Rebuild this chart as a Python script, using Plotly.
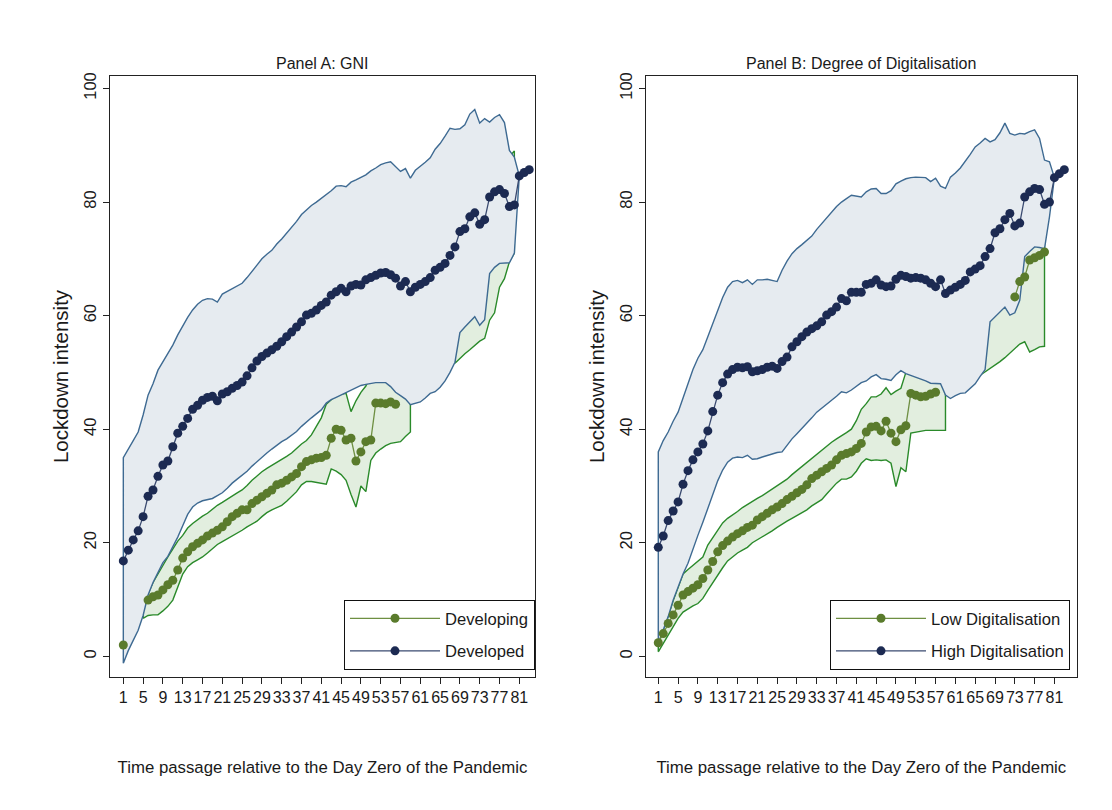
import plotly.graph_objects as go

N = None
days = list(range(1, 84))
xtick_vals = list(range(1, 82, 4))
xtick_text = [str(v) for v in xtick_vals]
ytick_vals = [0, 20, 40, 60, 80, 100]

# ---------------- Panel A: GNI ----------------
developed_mean = [16.8, 18.7, 20.5, 22.1, 24.6, 28.2, 29.3, 31.7, 33.7, 34.4,
                  36.9, 39.3, 40.5, 41.9, 43.5, 44.2, 45.1, 45.6, 45.8, 45.0,
                  46.2, 46.6, 47.2, 47.7, 48.3, 49.4, 50.8, 52.0, 52.8, 53.4,
                  54.0, 54.6, 55.4, 56.3, 57.1, 58.0, 58.9, 60.1, 60.4, 61.0,
                  61.8, 62.4, 63.6, 64.2, 64.8, 64.2, 65.2, 65.5, 65.4, 66.3,
                  66.7, 67.1, 67.5, 67.6, 67.2, 66.6, 65.2, 66.0, 64.2, 65.0,
                  65.5, 66.0, 66.7, 68.0, 68.5, 69.2, 70.6, 72.1, 74.8, 75.3,
                  77.4, 78.1, 76.1, 76.9, 80.9, 81.8, 82.2, 81.5, 79.2, 79.5,
                  84.6, 85.2, 85.7]
developed_lo = [-1.2, 1.0, 2.8, 4.6, 7.2, 10.8, 13.0, 14.9, 16.5, 17.6,
                19.2, 21.0, 23.0, 25.0, 26.3, 27.0, 27.4, 27.6, 27.8, 28.3,
                28.8, 29.6, 30.5, 31.2, 31.9, 32.6, 33.5, 34.3, 35.0, 35.8,
                36.5, 37.2, 37.8, 38.3, 38.9, 39.6, 40.5, 41.3, 42.0, 42.7,
                43.4, 44.6, 45.2, 45.6, 46.0, 46.5, 46.9, 47.3, 47.7, 47.9,
                48.1, 48.2, 48.2, 48.2, 47.5, 46.5, 45.9, 45.3, 44.3, 44.5,
                44.8, 45.5, 46.3, 46.6, 47.4, 48.5, 50.0, 51.8, 57.0, 58.0,
                59.0, 59.8, 58.3, 59.3, 67.4, 68.5, 69.2, 69.2, 69.3, 71.0,
                84.6, 85.2, 85.7]
developed_hi = [35.0, 36.5, 38.0, 39.5, 42.5, 46.0, 48.0, 50.4, 51.9, 53.3,
                54.8, 56.6, 58.2, 59.7, 61.0, 62.0, 62.7, 63.0, 62.9, 62.4,
                63.8, 64.2, 64.8, 65.2, 65.7, 66.7, 67.7, 68.9, 70.0, 70.8,
                71.5, 72.6, 73.5, 74.6, 75.5, 76.6, 77.8, 78.6, 79.4, 80.0,
                80.6, 81.3, 82.0, 82.8, 82.9, 82.7, 83.5, 83.9, 84.3, 84.8,
                85.5, 86.0, 86.6, 86.9, 87.1, 86.3, 85.4, 85.9, 84.2, 85.6,
                86.3, 87.0, 87.8, 89.3, 90.3, 91.6, 93.0, 92.8, 92.9, 93.6,
                95.5, 96.3, 93.9, 94.7, 94.1, 94.9, 95.4, 94.0, 89.1, 87.9,
                84.6, 85.2, 85.7]

developing_mean = ([2.0, N, N, N, N,
                    9.9, 10.5, 10.8, 11.7, 12.6, 13.4, 15.2, 17.3, 18.4, 19.3,
                    19.9, 20.5, 21.2, 21.7, 22.2, 22.8, 23.7, 24.6, 25.2, 25.8,
                    25.8, 26.9, 27.5, 28.1, 28.7, 29.3, 30.2, 30.5, 31.0, 31.6,
                    32.2, 33.4, 34.3, 34.6, 34.9, 35.0, 35.4, 38.4, 40.0, 39.8,
                    38.1, 38.4, 34.4, 36.0, 37.8, 38.1, 44.6, 44.6, 44.5, 44.8, 44.4]
                   + [N] * 27)
developing_lo = ([N, N, N, N,
                  6.7, 7.2, 7.3, 7.3, 8.0, 8.8, 9.9, 12.3, 14.5, 15.8,
                  16.5, 17.0, 17.5, 18.2, 18.9, 19.7, 20.2, 20.7, 21.1, 21.6,
                  22.2, 22.8, 23.3, 23.8, 24.6, 25.3, 25.8, 26.2, 26.6, 27.3,
                  28.1, 29.0, 30.2, 30.8, 30.8, 30.6, 30.4, 30.3, 33.0, 32.6,
                  32.0, 31.0, 28.5, 26.3, 30.0, 29.0, 34.5, 35.8, 36.5, 37.1,
                  37.5, 37.7, 37.8, 38.7, 39.5]
                 + [N] * 8
                 + [51.6, 52.5, 53.3, 54.0, 54.8, 55.5, 56.0, 59.2, 60.5, 65.0,
                    66.5, 69.5, 71.0]
                 + [N] * 3)
developing_hi = ([N, N, N, N,
                  9.5, 11.0, 13.0, 14.6, 16.0, 17.5, 19.0, 20.3, 21.3, 22.6,
                  23.4, 24.1, 24.7, 25.2, 25.9, 26.6, 27.1, 27.6, 28.2, 28.8,
                  29.3, 30.1, 31.0, 31.8, 32.5, 33.1, 33.6, 34.2, 34.7, 35.2,
                  35.8, 36.6, 37.4, 38.0, 39.0, 40.4, 42.0, 44.4, 45.2, 46.0,
                  46.2, 46.3, 43.1, 45.0, 46.5, 47.6, 49.5, 50.5, 51.0, 51.0,
                  50.5, 50.5, 50.0, 49.0, 48.0]
                 + [N] * 8
                 + [58.0, 60.0, 62.0, 63.0, 64.0, 65.0, 70.0, 72.0, 75.0, 78.0,
                    82.0, 88.0, 89.0]
                 + [N] * 3)

# ---------------- Panel B: Degree of Digitalisation ----------------
high_mean = [19.2, 21.2, 23.9, 25.6, 27.2, 30.3, 32.7, 34.6, 36.0, 37.4,
             39.7, 43.1, 46.0, 48.2, 49.7, 50.5, 50.9, 50.8, 51.0, 50.1,
             50.3, 50.5, 50.9, 51.1, 50.7, 51.9, 52.7, 54.5, 55.4, 56.3,
             57.1, 57.7, 58.2, 58.9, 60.1, 60.7, 61.5, 63.0, 62.6, 64.1,
             64.1, 64.1, 65.5, 65.7, 66.3, 65.4, 65.1, 65.2, 66.4, 67.1,
             66.9, 66.6, 66.7, 66.6, 66.3, 65.7, 65.1, 66.3, 63.9, 64.5,
             65.0, 65.5, 66.2, 67.7, 68.2, 68.8, 70.4, 71.8, 74.6, 75.3,
             76.9, 78.0, 75.8, 76.3, 80.9, 81.8, 82.4, 82.2, 79.6, 80.0,
             84.3, 85.0, 85.7]
high_lo = [2.3, 4.5, 7.0, 9.9, 12.3, 14.5, 16.4, 19.0, 21.3, 23.6,
           26.0, 28.6, 30.9, 32.8, 34.2, 34.9, 35.1, 35.0, 35.4, 34.7,
           34.8, 35.1, 35.4, 35.7, 35.9, 36.0, 37.2, 38.3, 39.2, 40.2,
           41.0, 42.0, 43.0, 43.7, 44.3, 45.0, 45.8, 46.6, 46.4, 46.9,
           47.5, 48.2, 48.5, 49.2, 49.6, 48.9, 48.8, 48.6, 49.6, 50.3,
           49.8, 49.5, 49.2, 48.9, 48.5, 48.1, 48.1, 48.0, 46.0, 45.4,
           45.9, 46.3, 46.4, 47.2, 48.0, 49.3, 50.5, 58.9, 59.8, 60.6,
           61.5, 60.1, 60.5, 62.7, 70.4, 71.3, 72.1, 72.0, 71.8, 77.4,
           84.3, 85.0, 85.7]
high_hi = [36.0, 38.0, 39.5, 41.4, 43.0, 45.5, 47.8, 50.5, 52.5, 54.0,
           56.3, 58.5, 61.0, 63.2, 65.0, 66.0, 66.2, 65.8, 66.3, 65.5,
           66.3, 66.3, 66.4, 66.2, 66.0, 68.0, 69.6, 70.9, 71.8, 72.5,
           73.2, 74.0, 75.2, 76.3, 77.2, 78.2, 79.2, 80.0, 80.6, 81.2,
           81.1, 80.9, 81.8, 82.3, 82.4, 81.5, 81.5, 82.0, 83.2, 83.7,
           84.1, 84.3, 84.4, 84.4, 84.3, 83.6, 84.2, 82.8, 82.4, 84.4,
           85.1, 86.0, 87.2, 88.4, 89.7, 90.4, 91.2, 90.6, 91.0, 92.2,
           93.9, 92.1, 91.8, 92.1, 92.0, 92.4, 92.7, 91.2, 87.4, 87.1,
           84.3, 85.0, 85.7]

low_mean = ([2.4, 4.0, 5.8, 7.3, 9.0, 10.8, 11.4, 12.0, 12.6, 13.7,
             15.2, 16.7, 18.4, 19.5, 20.3, 21.0, 21.6, 22.1, 22.7, 23.1,
             24.0, 24.6, 25.2, 25.8, 26.3, 26.9, 27.6, 28.2, 28.8, 29.4,
             30.2, 31.3, 31.9, 32.5, 33.1, 33.7, 34.6, 35.4, 35.7, 36.0,
             36.6, 37.5, 39.5, 40.4, 40.5, 39.7, 41.4, 39.3, 37.8, 39.9,
             40.6, 46.3, 46.0, 45.7, 45.8, 46.2, 46.5]
            + [N] * 15
            + [63.3, 66.0, 66.8, 69.8, 70.2, 70.6, 71.2]
            + [N] * 4)
low_lo = ([0.8, 2.3, 3.8, 5.3, 6.7, 7.8, 8.4, 8.9, 9.3, 10.2,
           11.6, 13.0, 14.3, 15.6, 16.8, 17.5, 18.2, 18.7, 19.2, 20.0,
           20.5, 21.0, 21.6, 22.1, 22.7, 23.3, 23.8, 24.3, 24.8, 25.3,
           25.8, 26.5, 27.0, 27.6, 28.6, 29.5, 30.5, 31.2, 31.2, 31.6,
           32.6, 34.0, 34.8, 34.5, 34.6, 34.5, 34.6, 34.0, 29.9, 33.2,
           32.5, 39.3, 39.5, 39.6, 39.8, 39.8, 39.8, 39.8, 39.8]
          + [N] * 6
          + [49.5, 50.1, 50.6, 51.2, 51.9, 52.6, 53.4, 54.3, 55.0, 55.4,
             53.6, 54.0, 54.5, 54.6]
          + [N] * 4)
low_hi = ([2.6, 4.6, 7.0, 9.8, 12.3, 14.5, 15.3, 16.0, 16.8, 17.5,
           19.6, 21.0, 22.2, 23.5, 24.3, 24.9, 25.5, 26.2, 26.8, 27.3,
           27.8, 28.3, 28.9, 29.5, 30.1, 30.6, 31.2, 32.0, 32.8, 33.5,
           34.2, 34.8, 35.6, 36.3, 37.0, 37.7, 38.3, 38.9, 39.4, 40.0,
           41.5, 43.5, 44.5, 45.7, 45.7, 46.2, 47.3, 46.1, 46.7, 47.2,
           50.0, 52.0, 52.0, 52.0, 51.0, 50.0, 50.0, 49.0, 48.0]
          + [N] * 6
          + [52.0, 56.0, 61.0, 62.0, 63.0, 64.0, 64.0, 65.0, 68.0, 72.0,
             73.0, 74.0, 74.0, 73.0]
          + [N] * 4)

# ---------------- styles ----------------
BLUE_FILL = "#e6ebf0"
BLUE_EDGE = "#3e6a92"
GREEN_FILL = "#e2eedf"
GREEN_EDGE = "#2a8a2a"
NAVY = "#1c2a52"
NAVY_LINE = "#3a4a70"
OLIVE = "#5a7b2c"
OLIVE_LINE = "#6e8f42"
FONT = "Liberation Sans, Arial, sans-serif"
TXT = "#1a1a1a"

fig = go.Figure()


def band_segments(x, lo, hi):
    segs, cur = [], []
    for d, a, b in zip(x, lo, hi):
        if a is None or b is None:
            if cur:
                segs.append(cur)
                cur = []
        else:
            cur.append((d, a, b))
    if cur:
        segs.append(cur)
    return segs


def add_band(lo, hi, fill, edge, xa, ya):
    for seg in band_segments(days, lo, hi):
        xs = [s[0] for s in seg]
        ls = [s[1] for s in seg]
        hs = [s[2] for s in seg]
        px = xs + xs[::-1] + [xs[0]]
        py = ls + hs[::-1] + [ls[0]]
        fig.add_trace(go.Scatter(x=px, y=py, mode="lines", fill="toself",
                                 fillcolor=fill, line=dict(color=edge, width=1.4),
                                 showlegend=False, hoverinfo="skip",
                                 xaxis=xa, yaxis=ya))


def add_mean(vals, name, mcol, lcol, xa, ya, legend, group):
    fig.add_trace(go.Scatter(x=days, y=vals, mode="lines+markers", name=name,
                             line=dict(color=lcol, width=1.3),
                             marker=dict(color=mcol, size=9),
                             connectgaps=False, legend=legend, legendgroup=group,
                             xaxis=xa, yaxis=ya))


# Panel A
add_band(developing_lo, developing_hi, GREEN_FILL, GREEN_EDGE, "x", "y")
add_band(developed_lo, developed_hi, BLUE_FILL, BLUE_EDGE, "x", "y")
add_mean(developing_mean, "Developing", OLIVE, OLIVE_LINE, "x", "y", "legend", "a1")
add_mean(developed_mean, "Developed", NAVY, NAVY_LINE, "x", "y", "legend", "a2")

# Panel B
add_band(low_lo, low_hi, GREEN_FILL, GREEN_EDGE, "x2", "y2")
add_band(high_lo, high_hi, BLUE_FILL, BLUE_EDGE, "x2", "y2")
add_mean(low_mean, "Low Digitalisation", OLIVE, OLIVE_LINE, "x2", "y2", "legend2", "b1")
add_mean(high_mean, "High Digitalisation", NAVY, NAVY_LINE, "x2", "y2", "legend2", "b2")

# page offset (the browser page adds an 8px body margin)
OFF = 8
SW, SH = 1112, 810
W, H = SW - OFF, SH - OFF


def px_x(sx):
    return (sx - OFF) / W


def px_y(sy):
    return (SH - sy) / H


top_px, bot_px = 76, 677
ydom = [px_y(bot_px), px_y(top_px)]


def xaxis_cfg(x0, x1, rng, anchor):
    return dict(domain=[px_x(x0), px_x(x1)], range=rng, tickmode="array",
                tickvals=xtick_vals, ticktext=xtick_text, tickangle=0,
                ticks="outside", anchor=anchor,
                ticklen=6, tickwidth=1, tickcolor="#222", showline=True,
                linecolor="#222", linewidth=1, mirror=True, showgrid=False,
                zeroline=False, automargin=False,
                tickfont=dict(size=16, color=TXT, family=FONT),
                title=dict(text="Time passage relative to the Day Zero of the Pandemic",
                           font=dict(size=16.8, color=TXT, family=FONT), standoff=56))


def yaxis_cfg(anchor):
    return dict(domain=ydom, range=[-3.64, 102.2], tickmode="array",
                tickvals=ytick_vals, ticktext=[str(v) for v in ytick_vals],
                tickangle=-90, ticks="outside", ticklen=6, tickwidth=1,
                tickcolor="#222", showline=True, linecolor="#222", linewidth=1,
                mirror=True, showgrid=False, zeroline=False, anchor=anchor,
                automargin=False,
                tickfont=dict(size=16.5, color=TXT, family=FONT),
                title=dict(text="Lockdown intensity",
                           font=dict(size=20.5, color=TXT, family=FONT), standoff=7))


legend_common = dict(bgcolor="white", bordercolor="#111", borderwidth=1,
                     font=dict(size=16.6, color=TXT, family=FONT), itemwidth=90,
                     tracegroupgap=8, xanchor="right", yanchor="bottom",
                     traceorder="grouped", entrywidthmode="pixels")

fig.update_layout(
    width=W, height=H,
    paper_bgcolor="white", plot_bgcolor="white",
    margin=dict(l=0, r=0, t=0, b=0),
    font=dict(family=FONT, color=TXT),
    showlegend=True,
    xaxis=xaxis_cfg(110, 535, [-1.69, 84.17], "y"),
    yaxis=yaxis_cfg("x"),
    xaxis2=xaxis_cfg(646, 1076.7, [-1.48, 85.5], "y2"),
    yaxis2=yaxis_cfg("x2"),
    legend=dict(legend_common, x=px_x(535), y=px_y(670), entrywidth=116),
    legend2=dict(legend_common, x=px_x(1070), y=px_y(670), entrywidth=165),
    annotations=[
        dict(text="Panel A: GNI", x=px_x((110 + 535) / 2), y=px_y(63),
             xref="paper", yref="paper", showarrow=False,
             xanchor="center", yanchor="middle",
             font=dict(size=16, color=TXT, family=FONT)),
        dict(text="Panel B: Degree of Digitalisation", x=px_x((646 + 1076.7) / 2),
             y=px_y(63), xref="paper", yref="paper", showarrow=False,
             xanchor="center", yanchor="middle",
             font=dict(size=16, color=TXT, family=FONT)),
    ],
)

fig.write_html("out.html")
